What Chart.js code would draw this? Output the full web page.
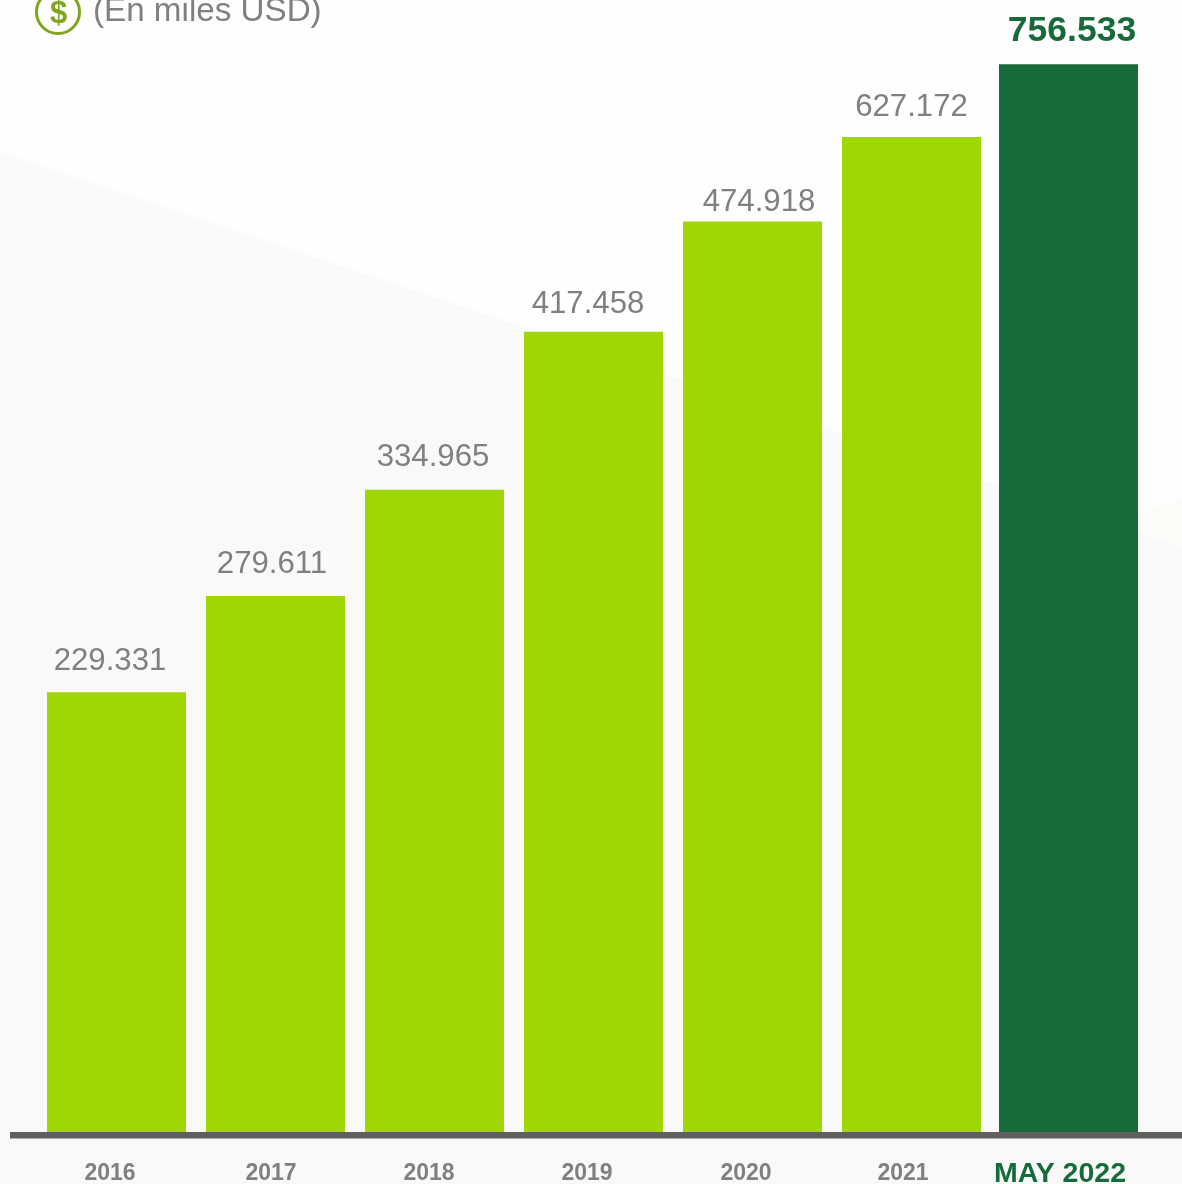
<!DOCTYPE html>
<html><head><meta charset="utf-8">
<style>html,body{margin:0;padding:0;background:#fff;overflow:hidden}canvas{display:block}</style>
<script src="https://cdn.jsdelivr.net/npm/chart.js@4"></script>
</head><body><canvas id="c" width="1182" height="1184"></canvas>
<script>
// Data
const categories = ['2016','2017','2018','2019','2020','2021','MAY 2022'];
// Printed value labels, as shown in the picture
const valueLabels = ['229.331','279.611','334.965','417.458','474.918','627.172','756.533'];
// Plotted bar heights. The last two bars are drawn
// shorter than their printed values would imply, so they are read separately.
const barHeights = [229.331,279.611,334.965,417.458,474.918,519,557];
const titleText = '(En miles USD)';

// Styling
const GREEN='#9fd603', DARK='#176b3a', GREY='#808084';
const labelDx=[-6.5,-3.5,-1.5,-5.5,6.5,0,3.5];
const labelGap=[22,23,24,19,11,21,23];
const tickDx=[-6.5,-4.5,-5.5,-6.5,-6.5,-8.5,-8.5];
const lastBarShift=-2;
const lastTickDy=-3;

const paint={
  id:'paint',
  afterDatasetsUpdate(chart){
    const m=chart.getDatasetMeta(0);
    const last=m.data[m.data.length-1];
    last.x+=lastBarShift;
    const items=chart.scales.x.getLabelItems(chart.chartArea);
    items.forEach((it,i)=>{
      const isLast=i===items.length-1;
      it.options.translation[0]+=tickDx[i]+(isLast?lastBarShift:0);
      if(isLast) it.options.translation[1]+=lastTickDy;
    });
  },
  beforeDraw(chart){
    const c=chart.ctx;
    c.save();
    c.fillStyle='#fefefe';c.fillRect(0,0,1182,1184);
    c.fillStyle='#f9f9f9';
    c.beginPath();c.moveTo(0,152);c.lineTo(1182,547);c.lineTo(1182,1184);c.lineTo(0,1184);c.closePath();c.fill();
    c.fillStyle='#fcfcf9';
    c.beginPath();c.moveTo(1040,547);c.lineTo(1182,499);c.lineTo(1182,547);c.lineTo(1080,513);c.closePath();c.fill();
    c.restore();
  },
  afterDatasetsDraw(chart){
    const c=chart.ctx, m=chart.getDatasetMeta(0);
    c.save();
    c.textAlign='center';c.textBaseline='alphabetic';
    m.data.forEach((b,i)=>{
      const last=i===m.data.length-1;
      c.font=(last?'bold 35.5px':'31.2px')+' "Liberation Sans"';
      c.fillStyle=last?DARK:GREY;
      c.fillText(valueLabels[i],b.x+labelDx[i],b.y-labelGap[i]);
    });
    // baseline bar
    c.fillStyle='#5f5f5d';
    c.fillRect(10,chart.scales.y.getPixelForValue(0),1172,6.5);
    // header icon and unit note
    c.strokeStyle='#7fa51f';c.lineWidth=3;
    c.beginPath();c.arc(58,12,21.5,0,Math.PI*2);c.stroke();
    c.fillStyle='#7fa51f';c.font='bold 31px "Liberation Sans"';
    c.fillText('$',58.5,23);
    c.textAlign='left';c.fillStyle=GREY;c.font='33.2px "Liberation Sans"';
    c.fillText(titleText,93,21);
    c.restore();
  }
};

new Chart(document.getElementById('c'),{
  type:'bar',
  data:{labels:categories,datasets:[{
    data:barHeights,
    backgroundColor:categories.map((_,i)=>i===categories.length-1?DARK:GREEN),
    barPercentage:1,categoryPercentage:139/159,borderWidth:0
  }]},
  plugins:[paint],
  options:{
    responsive:false,animation:false,
    layout:{padding:{left:37,right:32,top:0,bottom:0}},
    plugins:{legend:{display:false},tooltip:{enabled:false},title:{display:false}},
    scales:{
      y:{display:false,min:0,max:590.5},
      x:{
        grid:{display:false},border:{display:false},
        afterFit(s){s.height=52;},
        ticks:{
          autoSkip:false,maxRotation:0,padding:20,
          color:ctx=>ctx.index===categories.length-1?DARK:GREY,
          font:ctx=>ctx.index===categories.length-1
            ?{family:'"Liberation Sans"',size:28.5,weight:'bold'}
            :{family:'"Liberation Sans"',size:23,weight:'bold'}
        }
      }
    }
  }
});
</script></body></html>
